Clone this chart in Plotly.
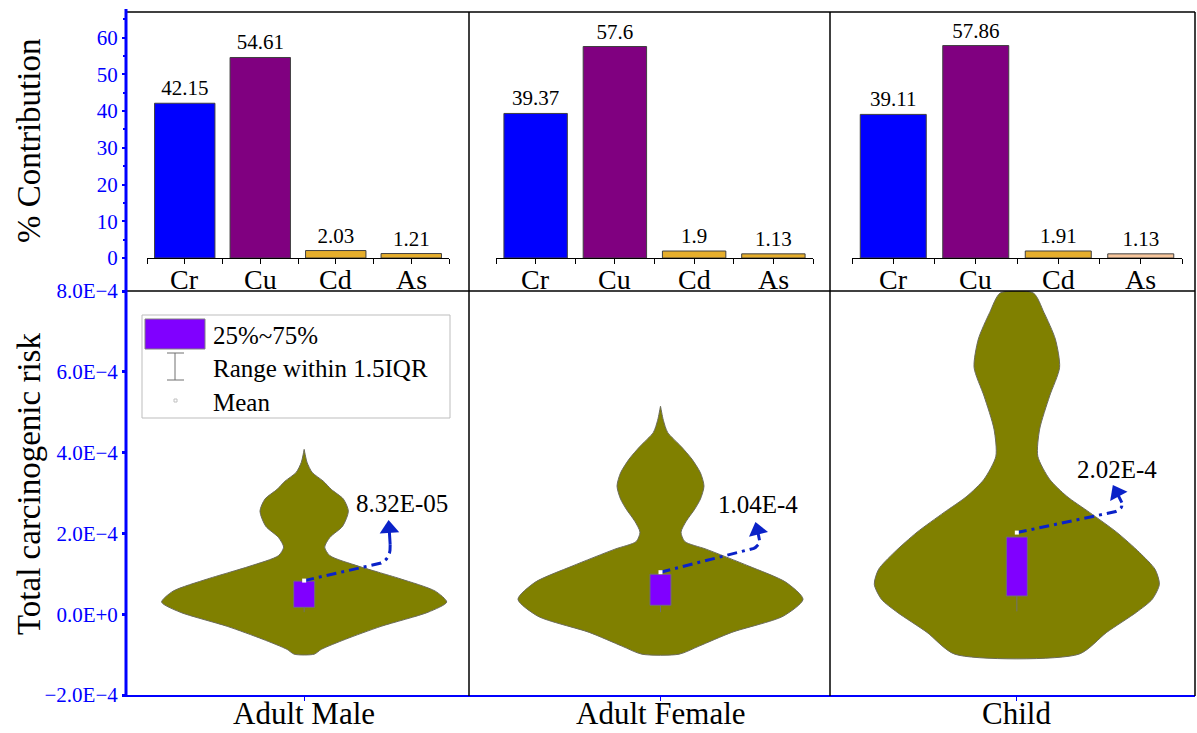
import numpy as np
import plotly.graph_objects as go

# ---------------- data ----------------
metals = ["Cr", "Cu", "Cd", "As"]
contrib_male = [42.15, 54.61, 2.03, 1.21]
contrib_female = [39.37, 57.6, 1.9, 1.13]
contrib_child = [39.11, 57.86, 1.91, 1.13]
bar_colors_adult = ["#0000FF", "#800080", "#E6AE2C", "#E6AE2C"]
bar_colors_child = ["#0000FF", "#800080", "#E6AE2C", "#F7C69C"]

groups = ["Adult Male", "Adult Female", "Child"]

# violin outlines: risk levels (x1E-4) and relative density (max = 1)
male_levels = [-0.99, -0.87, -0.62, -0.30, 0.05, 0.30, 0.57, 0.87, 1.04, 1.19, 1.45,
               1.66, 1.90, 2.18, 2.55, 2.85, 3.09, 3.29, 3.51, 3.76, 4.08]
male_density = [0.07, 0.12, 0.29, 0.54, 0.87, 1.00, 0.92, 0.68, 0.52, 0.38, 0.18,
                0.144, 0.18, 0.27, 0.31, 0.275, 0.19, 0.135, 0.056, 0.02, 0.0]
female_levels = [-0.99, -0.79, -0.45, -0.05, 0.37, 0.79, 1.19, 1.61, 1.80, 2.03, 2.30,
                 2.60, 2.85, 3.17, 3.50, 3.84, 4.15, 4.50, 4.80, 5.15]
female_density = [0.13, 0.27, 0.50, 0.86, 1.00, 0.88, 0.62, 0.32, 0.17, 0.144, 0.18,
                  0.24, 0.28, 0.305, 0.28, 0.22, 0.145, 0.05, 0.02, 0.0]
child_levels = [-0.99, -0.45, 0.05, 0.37, 0.74, 1.11, 1.53, 2.03, 2.52, 2.92, 3.34,
                3.91, 4.58, 5.40, 6.11, 6.81, 7.47, 7.95]
child_density = [0.435, 0.63, 0.84, 0.95, 1.00, 0.97, 0.86, 0.70, 0.51, 0.35, 0.23,
                 0.147, 0.16, 0.23, 0.30, 0.27, 0.19, 0.116]

# box statistics (x1E-4)
q1 = [0.17, 0.22, 0.45]
q3 = [0.82, 0.99, 1.91]
whisker_low = [0.05, 0.05, 0.07]
mean_risk = [0.832, 1.04, 2.02]
mean_labels = ["8.32E-05", "1.04E-4", "2.02E-4"]

risk_ticks = [-2, 0, 2, 4, 6, 8]
risk_ticktext = ["\u22122.0E\u22124", "0.0E+0", "2.0E\u22124", "4.0E\u22124", "6.0E\u22124", "8.0E\u22124"]

# ---------------- page geometry ----------------
W, H = 1197, 733
FONT = "Liberation Serif"
BLUE = "#0000FF"


def X(px):
    return px / W


def Y(py):
    return 1 - py / H


fig = go.Figure()
annotations = []

# ---------------- top row: % contribution bars ----------------
bar_sets = [(contrib_male, bar_colors_adult), (contrib_female, bar_colors_adult),
            (contrib_child, bar_colors_child)]
for i, (vals, cols) in enumerate(bar_sets):
    sfx = "" if i == 0 else str(i + 1)
    fig.add_trace(go.Bar(
        x=list(range(len(metals))), y=vals, width=0.8,
        marker=dict(color=cols, line=dict(color="#404040", width=1)),
        text=[str(v) for v in vals], textposition="outside", cliponaxis=False,
        textfont=dict(family=FONT, size=21, color="black"),
        xaxis="x" + sfx, yaxis="y" + sfx, showlegend=False,
    ))
    # category names under each small axis
    for k, m in enumerate(metals):
        annotations.append(dict(x=k, y=Y(279), xref="x" + sfx, yref="paper", text=m,
                                showarrow=False, xanchor="center", yanchor="middle",
                                font=dict(family=FONT, size=28, color="black")))

top_x_domains = [(147, 449), (496, 813), (852, 1182)]
for i, (a, b) in enumerate(top_x_domains):
    sfx = "" if i == 0 else str(i + 1)
    fig.layout["xaxis" + sfx] = dict(
        domain=[X(a), X(b)], range=[-0.5, 3.5], anchor="y" + sfx, automargin=False,
        tickmode="array", tickvals=list(range(len(metals))), showticklabels=False,
        showline=True, linecolor="black", linewidth=1.2,
        ticks="outside", ticklen=5, tickwidth=1.2, tickcolor="black",
        minor=dict(tickmode="linear", tick0=0.5, dtick=1, ticks="outside",
                   ticklen=5, tickwidth=1.2, tickcolor="black"),
        showgrid=False, zeroline=False, fixedrange=True,
    )
    ydef = dict(domain=[Y(258), Y(12)], range=[0, 67], showgrid=False,
                zeroline=False, fixedrange=True, automargin=False)
    if i == 0:
        ydef.update(anchor="free", position=X(126), showline=False,
                    tickmode="linear", tick0=0, dtick=10,
                    ticks="outside", ticklen=4, tickwidth=2, tickcolor=BLUE,
                    minor=dict(tickmode="linear", tick0=0, dtick=5, ticks="outside",
                               ticklen=3, tickwidth=1.5, tickcolor=BLUE),
                    tickfont=dict(family=FONT, size=21, color=BLUE))
    else:
        ydef.update(anchor="x" + sfx, visible=False)
    fig.layout["yaxis" + sfx] = ydef

# ---------------- bottom row: risk violins ----------------
HALF_MAX = 0.4          # half-width (category units) at peak density
BOX_W = 0.059
px_per_cat = (1195 - 126) / 3.0
px_per_unit = (695 - 291) / 10.0   # pixels per 1E-4

profiles = [(male_levels, male_density), (female_levels, female_density),
            (child_levels, child_density)]
for g, (lv, dn) in enumerate(profiles):
    lv = np.array(lv)
    hw = HALF_MAX * np.array(dn)
    xs = np.concatenate([g + hw, (g - hw)[::-1], [g + hw[0]]])
    ys = np.concatenate([lv, lv[::-1], [lv[0]]]) * 1e-4
    fig.add_trace(go.Scatter(
        x=xs, y=ys, mode="lines", fill="toself", fillcolor="#808000",
        line=dict(color="#6b6b5a", width=1, shape="spline", smoothing=0.7),
        xaxis="x4", yaxis="y4", showlegend=False, hoverinfo="skip",
    ))

# lower whiskers and interquartile boxes
for g in range(3):
    fig.add_trace(go.Scatter(
        x=[g, g], y=[whisker_low[g] * 1e-4, q1[g] * 1e-4], mode="lines",
        line=dict(color="#707070", width=1), xaxis="x4", yaxis="y4",
        showlegend=False, hoverinfo="skip",
    ))
    lo, hi = q1[g] * 1e-4, q3[g] * 1e-4
    fig.add_trace(go.Scatter(
        x=[g - BOX_W / 2, g + BOX_W / 2, g + BOX_W / 2, g - BOX_W / 2, g - BOX_W / 2],
        y=[lo, lo, hi, hi, lo], mode="lines", fill="toself", fillcolor="#8000FF",
        line=dict(color="#707070", width=1), xaxis="x4", yaxis="y4",
        showlegend=False, hoverinfo="skip",
    ))

# dash-dot arrows from the mean to its label (offsets in pixels: right, up)
arrow_geo = [
    dict(p1=(72, 16), c=(87, 19), p2=(86, 36), head=(85, 52), tilt=-4, lab=(98, 77)),
    dict(p1=(84, 21), c=(100, 24), p2=(99, 32), head=(97, 42), tilt=-14, lab=(97, 68)),
    dict(p1=(92, 19), c=(107, 22), p2=(105, 30), head=(100, 40), tilt=-28, lab=(100, 63)),
]
ARROW_BLUE = "#0A22C8"
for g, geo in enumerate(arrow_geo):
    mx, my = g, mean_risk[g] * 1e-4

    def to_data(p):
        return mx + p[0] / px_per_cat, my + p[1] / px_per_unit * 1e-4

    t = np.linspace(0, 1, 12)
    p1, c, p2 = np.array(geo["p1"]), np.array(geo["c"]), np.array(geo["p2"])
    curve = [(1 - s) ** 2 * p1 + 2 * (1 - s) * s * c + s ** 2 * p2 for s in t]
    pts = [(0, 0)] + [tuple(q) for q in curve]
    dpts = [to_data(p) for p in pts]
    fig.add_trace(go.Scatter(
        x=[d[0] for d in dpts], y=[d[1] for d in dpts], mode="lines",
        line=dict(color=ARROW_BLUE, width=3, dash="10px,5px,3px,5px"),
        xaxis="x4", yaxis="y4", showlegend=False, hoverinfo="skip",
    ))
    hx, hy = to_data(geo["head"])
    bx, by = to_data(geo["p2"])
    fig.add_trace(go.Scatter(
        x=[bx, hx], y=[by, hy], mode="lines",
        line=dict(color=ARROW_BLUE, width=3),
        xaxis="x4", yaxis="y4", showlegend=False, hoverinfo="skip",
    ))
    fig.add_trace(go.Scatter(
        x=[hx], y=[hy], mode="markers",
        marker=dict(symbol="triangle-up", size=17, color=ARROW_BLUE,
                    angle=geo["tilt"], line=dict(width=0)),
        xaxis="x4", yaxis="y4", showlegend=False, hoverinfo="skip",
    ))
    lx, ly = to_data(geo["lab"])
    annotations.append(dict(
        x=lx, y=ly, xref="x4", yref="y4", text=mean_labels[g], showarrow=False,
        xanchor="center", yanchor="middle",
        font=dict(family=FONT, size=25, color="black"),
    ))

# mean markers
fig.add_trace(go.Scatter(
    x=list(range(3)), y=[m * 1e-4 for m in mean_risk], mode="markers",
    marker=dict(symbol="square", size=4, color="white", line=dict(width=0)),
    xaxis="x4", yaxis="y4", showlegend=False,
))

fig.layout["xaxis4"] = dict(
    domain=[X(126), X(1195)], range=[-0.5, 2.5], anchor="y4", automargin=False,
    tickmode="array", tickvals=list(range(3)), showticklabels=False,
    showline=True, linecolor=BLUE, linewidth=1.5,
    ticks="outside", ticklen=4, tickwidth=1.2, tickcolor=BLUE,
    showgrid=False, zeroline=False, fixedrange=True,
)
for g, name in enumerate(groups):
    annotations.append(dict(x=g, y=Y(732.5), xref="x4", yref="paper", text=name,
                            showarrow=False, xanchor="center", yanchor="bottom",
                            font=dict(family=FONT, size=31, color="black")))

fig.layout["yaxis4"] = dict(
    domain=[Y(695), Y(291)], range=[-2e-4, 8e-4], anchor="free", position=X(126),
    automargin=False,
    tickmode="array", tickvals=[v * 1e-4 for v in risk_ticks], ticktext=risk_ticktext,
    ticks="outside", ticklen=4, tickwidth=3, tickcolor=BLUE, showline=False,
    tickfont=dict(family=FONT, size=21, color=BLUE),
    showgrid=False, zeroline=False, fixedrange=True,
)

# ---------------- frame lines ----------------
shapes = []


def hline(py, a, b, color="black", width=1.5):
    shapes.append(dict(type="line", xref="paper", yref="paper", x0=X(a), x1=X(b),
                       y0=Y(py), y1=Y(py), line=dict(color=color, width=width)))


def vline(px, a, b, color="black", width=1.5):
    shapes.append(dict(type="line", xref="paper", yref="paper", x0=X(px), x1=X(px),
                       y0=Y(a), y1=Y(b), line=dict(color=color, width=width)))


hline(12, 127, 1195)
hline(291, 127, 1195)
vline(469, 12, 696)
vline(830, 12, 696)
vline(1195, 12, 696)
vline(126, 9, 696, color=BLUE, width=3)

# ---------------- hand-built legend ----------------
shapes.append(dict(type="rect", xref="paper", yref="paper", x0=X(142), x1=X(450),
                   y0=Y(418), y1=Y(315), line=dict(color="#BDBDBD", width=1),
                   fillcolor="white"))
shapes.append(dict(type="rect", xref="paper", yref="paper", x0=X(145), x1=X(205),
                   y0=Y(349), y1=Y(319), line=dict(color="#808080", width=1),
                   fillcolor="#8000FF"))
vline(175, 353, 380, color="#707070", width=1)
hline(353, 167, 184, color="#707070", width=1)
hline(380, 167, 184, color="#707070", width=1)
shapes.append(dict(type="rect", xref="paper", yref="paper", x0=X(174), x1=X(177),
                   y0=Y(402), y1=Y(399), line=dict(color="#C0C0C0", width=1),
                   fillcolor="white"))
legend_items = ["25%~75%", "Range within 1.5IQR", "Mean"]
legend_rows = [335, 368, 402]
for txt, py in zip(legend_items, legend_rows):
    annotations.append(dict(x=X(211), y=Y(py), xref="paper", yref="paper", text=txt,
                            showarrow=False, xanchor="left", yanchor="middle",
                            font=dict(family=FONT, size=25, color="black")))

# axis titles
annotations.append(dict(x=X(29), y=Y(141), xref="paper", yref="paper",
                        xanchor="center", yanchor="middle",
                        text="% Contribution", textangle=-90, showarrow=False,
                        font=dict(family=FONT, size=33, color="black")))
annotations.append(dict(x=X(29), y=Y(484), xref="paper", yref="paper",
                        xanchor="center", yanchor="middle",
                        text="Total carcinogenic risk", textangle=-90, showarrow=False,
                        font=dict(family=FONT, size=33, color="black")))

fig.update_layout(
    width=W, height=H, margin=dict(l=0, r=0, t=0, b=0, pad=0),
    paper_bgcolor="white", plot_bgcolor="rgba(0,0,0,0)",
    shapes=shapes, annotations=annotations, showlegend=False,
    font=dict(family=FONT),
)

fig.write_html("out.html")
